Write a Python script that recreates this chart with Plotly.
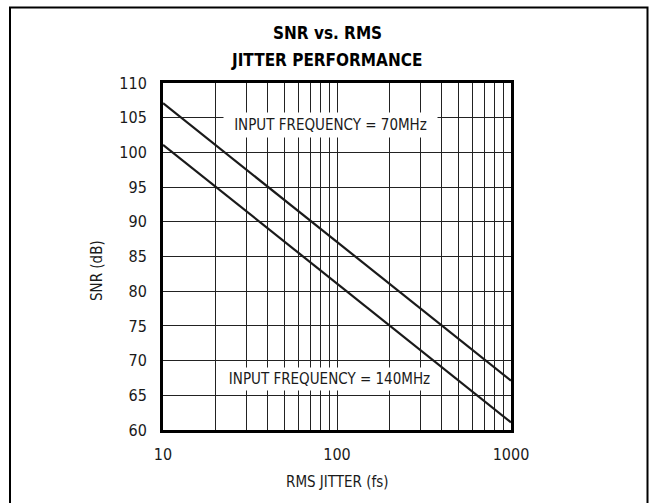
import plotly.graph_objects as go

# RMS jitter (fs) and resulting SNR (dB) for the two input frequencies
jitter_fs = [10, 100, 1000]
snr_70mhz = [107.1, 87.1, 67.1]
snr_140mhz = [101.1, 81.1, 61.1]

x_ticks = [10, 100, 1000]
x_tick_text = ["10", "100", "1000"]
y_ticks = list(range(60, 111, 5))

FONT = "Liberation Sans Narrow, DejaVu Sans Condensed, Arial Narrow, Roboto, sans-serif"
INK = "#1a1a1a"

W, H = 649, 503
L, R, T, B = 163, 138, 83, 73
PW, PH = W - L - R, H - T - B


def px_x(px):
    return (px - L) / PW


def px_y(py):
    return (H - B - py) / PH


fig = go.Figure()
for snr in (snr_70mhz, snr_140mhz):
    fig.add_trace(go.Scatter(
        x=jitter_fs, y=snr, mode="lines",
        line=dict(color=INK, width=2.2), showlegend=False, hoverinfo="skip",
    ))

fig.update_layout(
    width=W, height=H,
    margin=dict(l=L, r=R, t=T, b=B),
    paper_bgcolor="white", plot_bgcolor="white",
    font=dict(family=FONT, color=INK, size=15),
    xaxis=dict(
        type="log", range=[1, 3],
        tickvals=x_ticks, ticktext=x_tick_text,
        showgrid=True, gridcolor="#222", gridwidth=1,
        minor=dict(dtick="D1", showgrid=True, gridcolor="#222", gridwidth=1, ticks=""),
        showline=True, mirror=True, linecolor="black", linewidth=3,
        ticks="", ticklabelstandoff=8, zeroline=False,
        tickfont=dict(size=16),
    ),
    yaxis=dict(
        range=[60, 110], tickvals=y_ticks,
        showgrid=True, gridcolor="#222", gridwidth=1,
        showline=True, mirror=True, linecolor="black", linewidth=3,
        ticks="", ticklabelstandoff=10, zeroline=False,
        tickfont=dict(size=16),
    ),
)

# Outer frame around the whole figure
fig.add_shape(
    type="rect", xref="paper", yref="paper",
    x0=px_x(10), x1=px_x(647.5), y0=px_y(515), y1=px_y(7.5),
    line=dict(color="black", width=2), fillcolor="rgba(0,0,0,0)", layer="above",
)


def label(text, x, y, size, **kw):
    fig.add_annotation(text=text, xref="paper", yref="paper",
                       x=px_x(x), y=px_y(y), xanchor="center", yanchor="middle",
                       showarrow=False, font=dict(size=size, family=FONT,
                                                  color=kw.pop("color", INK)), **kw)


# Title
label("<b>SNR vs. RMS</b>", 327, 33, 17, color="black")
label("<b>JITTER PERFORMANCE</b>", 326, 60, 17, color="black")

# Axis titles
label("RMS JITTER (fs)", 337, 482, 15)
label("SNR (dB)", 97, 271, 15, textangle=-90)

# Curve labels on white boxes
label("INPUT FREQUENCY = 70MHz", 330.5, 125, 15,
      bgcolor="white", width=213, height=24, borderpad=0)
label("INPUT FREQUENCY = 140MHz", 329.5, 378.5, 15,
      bgcolor="white", width=217, height=22, borderpad=0)

fig.write_html("out.html")
